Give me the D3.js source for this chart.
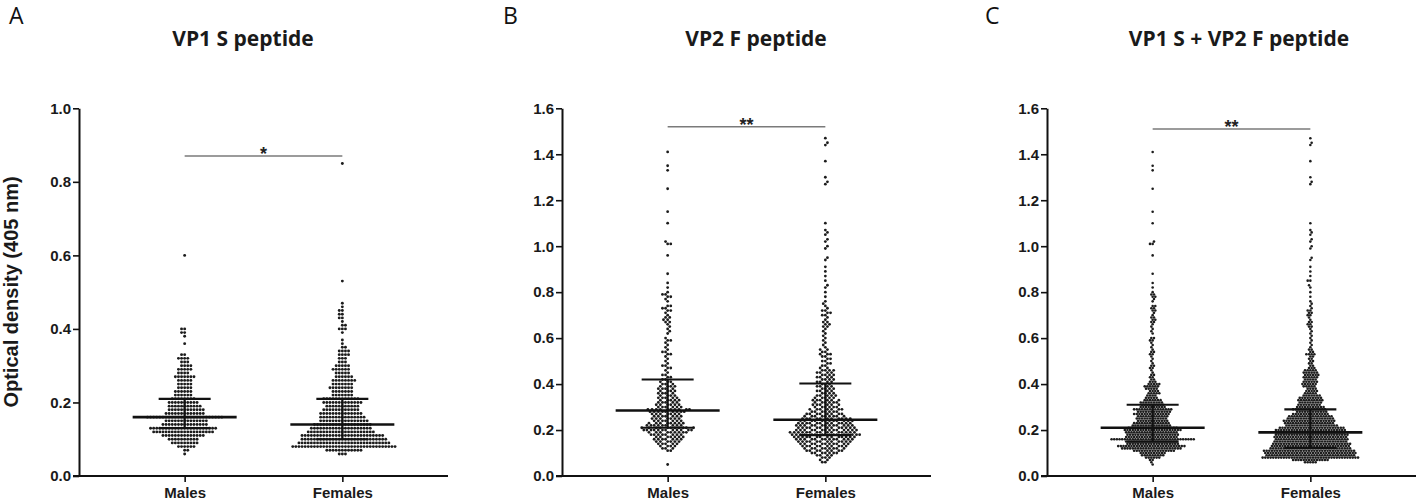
<!DOCTYPE html>
<html>
<head>
<meta charset="utf-8">
<script src="https://cdn.jsdelivr.net/npm/d3@7/dist/d3.min.js"></script>
<style>
  body { margin: 0; background: #fff; }
  svg { display: block; }
</style>
</head>
<body>
<div id="chart"></div>
<script>
// groups on the x axis
var groups = ["Males", "Females"];

// one entry per panel
var panelLetters = ["A", "B", "C"];
var panelTitles  = ["VP1 S peptide", "VP2 F peptide", "VP1 S + VP2 F peptide"];
var yMaxes       = [1.0, 1.6, 1.6];
var sigLevels    = [0.87, 1.52, 1.51];
var sigMarks     = ["*", "**", "**"];

// optical density readings, [value, number of sera at that value]
var vp1Males = [
  [0.06,1],[0.07,2],[0.08,6],[0.09,9],[0.10,10],[0.11,14],[0.12,20],[0.13,22],
  [0.14,15],[0.15,14],[0.16,25],[0.17,13],[0.18,12],[0.19,11],[0.20,10],[0.21,8],
  [0.22,6],[0.23,6],[0.24,5],[0.25,5],[0.26,5],[0.27,7],[0.28,4],[0.29,5],
  [0.30,4],[0.31,3],[0.32,4],[0.33,2],[0.36,1],[0.38,1],[0.39,2],[0.40,2],
  [0.60,1]
];
var vp1Females = [
  [0.06,3],[0.07,12],[0.08,34],[0.09,30],[0.10,28],[0.11,27],[0.12,22],[0.13,20],
  [0.14,19],[0.15,16],[0.16,15],[0.17,14],[0.18,12],[0.19,11],[0.20,13],[0.21,12],
  [0.22,7],[0.23,7],[0.24,8],[0.25,7],[0.26,8],[0.27,6],[0.28,5],[0.29,6],
  [0.30,5],[0.31,3],[0.32,3],[0.33,4],[0.34,4],[0.35,2],[0.36,1],[0.37,1],
  [0.39,1],[0.40,3],[0.41,2],[0.42,1],[0.43,2],[0.44,2],[0.45,2],[0.46,1],
  [0.47,1],[0.53,1],[0.85,1]
];
var vp2Males = [
  [0.05,1],[0.11,2],[0.12,3],[0.13,4],[0.14,5],[0.15,6],[0.16,7],[0.17,7],
  [0.18,8],[0.19,9],[0.20,12],[0.21,11],[0.22,9],[0.23,8],[0.24,7],[0.25,7],
  [0.26,7],[0.27,7],[0.28,9],[0.29,10],[0.30,6],[0.31,6],[0.32,5],[0.33,5],
  [0.34,5],[0.35,4],[0.36,4],[0.37,4],[0.38,4],[0.39,4],[0.40,3],[0.41,3],
  [0.42,2],[0.43,2],[0.44,2],[0.45,1],[0.46,1],[0.47,2],[0.48,2],[0.49,1],
  [0.50,1],[0.51,1],[0.52,1],[0.53,2],[0.54,2],[0.55,1],[0.56,1],[0.57,1],
  [0.58,1],[0.59,2],[0.60,1],[0.62,1],[0.63,1],[0.64,1],[0.65,1],[0.66,1],
  [0.67,2],[0.68,2],[0.69,2],[0.70,1],[0.71,1],[0.72,2],[0.73,2],[0.74,2],
  [0.76,1],[0.77,1],[0.78,2],[0.79,2],[0.80,1],[0.82,1],[0.84,1],[0.88,1],
  [0.96,1],[1.01,2],[1.02,1],[1.10,1],[1.15,1],[1.25,1],[1.33,1],[1.35,1],
  [1.41,1]
];
var vp2Females = [
  [0.06,2],[0.07,2],[0.08,3],[0.09,4],[0.10,7],[0.11,8],[0.12,9],[0.13,10],
  [0.14,11],[0.15,12],[0.16,13],[0.17,14],[0.18,16],[0.19,15],[0.20,14],[0.21,13],
  [0.22,13],[0.23,12],[0.24,12],[0.25,11],[0.26,9],[0.27,8],[0.28,7],[0.29,7],
  [0.30,6],[0.31,6],[0.32,6],[0.33,6],[0.34,5],[0.35,5],[0.36,4],[0.37,4],
  [0.38,4],[0.39,4],[0.40,3],[0.41,4],[0.42,4],[0.43,4],[0.44,4],[0.45,4],
  [0.46,4],[0.47,2],[0.48,2],[0.49,2],[0.50,2],[0.51,2],[0.52,2],[0.53,3],
  [0.54,2],[0.55,2],[0.56,1],[0.57,1],[0.58,1],[0.59,1],[0.60,1],[0.61,1],
  [0.62,1],[0.63,1],[0.64,1],[0.65,2],[0.66,2],[0.67,2],[0.68,1],[0.69,1],
  [0.70,2],[0.71,2],[0.72,2],[0.73,1],[0.74,1],[0.75,1],[0.76,1],[0.78,1],
  [0.80,1],[0.82,1],[0.83,1],[0.85,1],[0.87,1],[0.89,1],[0.91,1],[0.94,1],
  [0.95,1],[0.99,1],[1.00,1],[1.02,1],[1.03,1],[1.05,1],[1.06,1],[1.07,1],
  [1.10,1],[1.27,1],[1.28,1],[1.30,1],[1.37,1],[1.44,1],[1.45,1],[1.47,1]
];

// panel C pools the readings of both peptides
function pool(a, b) {
  var m = d3.rollup(a.concat(b), v => d3.sum(v, d => d[1]), d => d[0].toFixed(2));
  return Array.from(m, ([k, n]) => [+k, n]).sort((p, q) => p[0] - q[0]);
}
var panelData = [
  [vp1Males, vp1Females],
  [vp2Males, vp2Females],
  [pool(vp1Males, vp2Males), pool(vp1Females, vp2Females)]
];

// expand [value, count] rows into single readings
function expand(bins) {
  var out = [];
  bins.forEach(function(b) { for (var j = 0; j < b[1]; j++) out.push(b[0]); });
  return out;
}

// simple beeswarm: each dot goes as close to the centre as it can
// without touching a dot already placed (dots taken bottom-up)
function swarm(vals, y, d) {
  var sorted = vals.slice().sort(d3.ascending);
  var placed = [];
  var flip = 1;
  return sorted.map(function(v) {
    var py = y(v);
    var ivs = [];
    for (var i = placed.length - 1; i >= 0; i--) {
      var dy = Math.abs(placed[i].y - py);
      if (dy >= d) break;
      var w = Math.sqrt(d * d - dy * dy);
      ivs.push([placed[i].x - w, placed[i].x + w]);
    }
    var cands = [0];
    ivs.forEach(function(iv) { cands.push(iv[0], iv[1]); });
    var best = null;
    cands.forEach(function(c) {
      if (ivs.some(iv => c > iv[0] + 1e-6 && c < iv[1] - 1e-6)) return;
      if (best === null) { best = c; return; }
      var a = Math.abs(c), b = Math.abs(best);
      if (a < b - 1e-6 || (Math.abs(a - b) < 1e-6 && c * flip > 0)) best = c;
    });
    flip = -flip;
    placed.push({ y: py, x: best });
    return { v: v, off: best };
  });
}

// ── layout ──
var W = 1418, H = 501;
var plotBottom = 476, plotTop = 108.3, plotW = 369;
var panelLeft = [79, 562, 1047];
var titleX = [243, 756, 1239];
var letterX = [9, 503, 985];
var gaps = [3.1, 3.1, 2.65], dotRs = [1.45, 1.4, 1.3];
var medianHalf = 52, capHalf = 26;

var svg = d3.select("#chart").append("svg")
  .attr("width", W).attr("height", H);

var axisFont = "'Liberation Sans', Arial, sans-serif";
var titleFont = "'Open Sans', 'Noto Sans', sans-serif";

panelData.forEach(function(pd, pi) {
  var left = panelLeft[pi];
  var g = svg.append("g");

  var y = d3.scaleLinear().domain([0, yMaxes[pi]]).range([plotBottom, plotTop]);
  var x = d3.scalePoint().domain(groups).range([left, left + plotW]).padding(0.67);

  // panel letter + title
  g.append("text")
    .attr("x", letterX[pi]).attr("y", 24)
    .attr("font-family", titleFont).attr("font-size", 23)
    .attr("fill", "#111")
    .text(panelLetters[pi]);
  g.append("text")
    .attr("x", titleX[pi]).attr("y", 46)
    .attr("text-anchor", "middle")
    .attr("font-family", titleFont).attr("font-weight", "bold").attr("font-size", 21)
    .attr("fill", "#1a1a1a")
    .text(panelTitles[pi]);

  groups.forEach(function(grp, gi) {
    var vals = expand(pd[gi]).sort(d3.ascending);
    var pts = swarm(vals, y, gaps[pi]);
    g.append("g").selectAll("circle")
      .data(pts)
      .enter().append("circle")
        .attr("cx", d => x(grp) + d.off)
        .attr("cy", d => y(d.v))
        .attr("r", dotRs[pi])
        .attr("fill", "#1c1c1c");

    // median and interquartile range
    var q1 = d3.quantileSorted(vals, 0.25),
        med = d3.quantileSorted(vals, 0.5),
        q3 = d3.quantileSorted(vals, 0.75);
    var cx = x(grp);
    var lines = [
      { x1: cx, x2: cx, y1: y(q1), y2: y(q3), w: 2.2 },
      { x1: cx - capHalf, x2: cx + capHalf, y1: y(q1), y2: y(q1), w: 2.2 },
      { x1: cx - capHalf, x2: cx + capHalf, y1: y(q3), y2: y(q3), w: 2.2 },
      { x1: cx - medianHalf, x2: cx + medianHalf, y1: y(med), y2: y(med), w: 2.6 }
    ];
    g.append("g").selectAll("line")
      .data(lines)
      .enter().append("line")
        .attr("x1", d => d.x1).attr("x2", d => d.x2)
        .attr("y1", d => d.y1).attr("y2", d => d.y2)
        .attr("stroke", "#111").attr("stroke-width", d => d.w);
  });

  // significance bar
  var sy = y(sigLevels[pi]);
  g.append("line")
    .attr("x1", x(groups[0])).attr("x2", x(groups[1]))
    .attr("y1", sy).attr("y2", sy)
    .attr("stroke", "#7a7a7a").attr("stroke-width", 1.5);
  g.append("text")
    .attr("x", (x(groups[0]) + x(groups[1])) / 2).attr("y", sy + 4)
    .attr("text-anchor", "middle")
    .attr("font-family", axisFont).attr("font-weight", "bold").attr("font-size", 18)
    .attr("fill", "#222")
    .text(sigMarks[pi]);

  // axes
  var yAxis = d3.axisLeft(y)
    .tickValues(d3.range(0, yMaxes[pi] + 0.001, 0.2))
    .tickFormat(d3.format(".1f"))
    .tickSize(6).tickSizeOuter(0).tickPadding(2);
  var ya = g.append("g").attr("transform", "translate(" + left + ",0)").call(yAxis);

  var xAxis = d3.axisBottom(x).tickSize(6).tickSizeOuter(0).tickPadding(5);
  var xa = g.append("g").attr("transform", "translate(0," + plotBottom + ")").call(xAxis);

  [ya, xa].forEach(function(a) {
    a.select(".domain").attr("stroke", "#111").attr("stroke-width", 2);
    a.selectAll(".tick line").attr("stroke", "#111").attr("stroke-width", 1.6);
    a.selectAll(".tick text")
      .attr("font-family", axisFont).attr("font-weight", "bold")
      .attr("fill", "#1a1a1a");
  });
  ya.selectAll(".tick text").attr("font-size", 15);
  xa.selectAll(".tick text").attr("font-size", 15);
  // x axis starts at the y axis line's outer edge
  xa.select(".domain").attr("d", "M" + (left - 6) + ",0H" + (left + plotW));

  if (pi === 0) {
    g.append("text")
      .attr("transform", "translate(18,292) rotate(-90)")
      .attr("text-anchor", "middle")
      .attr("font-family", axisFont).attr("font-weight", "bold").attr("font-size", 20)
      .attr("fill", "#1a1a1a")
      .text("Optical density (405 nm)");
  }
});
</script>
</body>
</html>
